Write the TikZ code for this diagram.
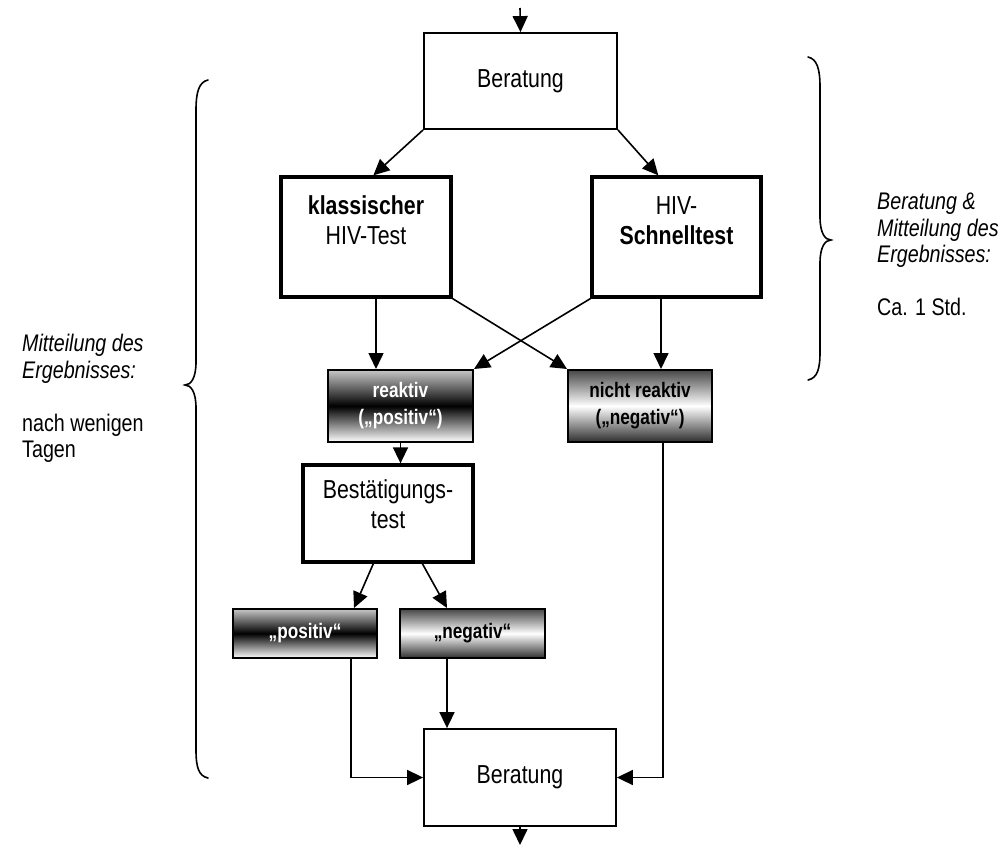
\documentclass[tikz,border=0pt]{standalone}
\usepackage{fontspec}
\setmainfont{Liberation Sans}[FakeStretch=0.82]
\usetikzlibrary{arrows.meta,calc}
\begin{document}
\begin{tikzpicture}[x=1pt,y=-1pt,
  bigtxt/.style={font=\fontsize{26}{30}\selectfont, align=center, inner sep=0pt},
  thinbox/.style={draw, line width=1.8pt, inner sep=0pt, font=\fontsize{26}{30}\selectfont},
  thickbox/.style={draw, line width=3.3pt, inner sep=0pt},
  gbox/.style={draw, line width=2pt, inner sep=0pt, align=center, font=\fontsize{21}{27}\selectfont\bfseries},
  darkmid/.style={gbox, top color=black!22, bottom color=white, middle color=black, text=white},
  lightmid/.style={gbox, top color=black!72, bottom color=black!82, middle color=white, text=black},
  arr/.style={line width=1.6pt, -{Triangle[length=16pt,width=15pt]}},
  brace/.style={line width=1.6pt, line cap=round},
  side/.style={font=\fontsize{24}{26.5}\selectfont, align=left, inner sep=0pt, anchor=north west}
]
\useasboundingbox (0,0) rectangle (1000,845);

% boxes
\node[thinbox, minimum width=193pt, minimum height=96pt] (ber1) at (520.5,81) {Beratung};
\node[thickbox, minimum width=170pt, minimum height=120pt] (klass) at (366,237) {};
\node[bigtxt] (klasst) at (366,220.5) {\textbf{klassischer}\\HIV-Test};
\node[thickbox, minimum width=169pt, minimum height=120pt] (schnell) at (676.5,237) {};
\node[bigtxt] (schnellt) at (676.5,220.5) {HIV-\\\textbf{Schnelltest}};
\node[darkmid, minimum width=145pt, minimum height=72pt] (reak) at (400.5,406) {reaktiv\\(„positiv“)};
\node[lightmid, minimum width=144pt, minimum height=72pt] (nreak) at (640,406) {nicht reaktiv\\(„negativ“)};
\node[thickbox, minimum width=170pt, minimum height=97pt] (best) at (388,513.5) {};
\node[bigtxt] (bestt) at (388,504.5) {Bestätigungs-\\test};
\node[darkmid, minimum width=144pt, minimum height=49pt] (pos) at (305,633.5) {„positiv“};
\node[lightmid, minimum width=145pt, minimum height=49pt] (neg) at (472.5,633.5) {„negativ“};
\node[thinbox, minimum width=192pt, minimum height=97pt] (ber2) at (520,777.5) {Beratung};

\coordinate (in) at (520,8);
\coordinate (out) at (520,845);

% connectors
\draw[arr] (in) -- (ber1.north);
\draw[arr] (ber1.south west) -- ([xshift=94pt]klass.north west);
\draw[arr] (ber1.south east) -- ([xshift=68pt]schnell.north west);
\draw[arr] ([xshift=49pt]reak.north west |- klass.south) -- ([xshift=49pt]reak.north west);
\draw[arr] ([xshift=94pt]nreak.north west |- schnell.south) -- ([xshift=94pt]nreak.north west);
\draw[arr] (klass.south east) -- (nreak.north west);
\draw[arr] (schnell.south west) -- (reak.north east);
\draw[arr] (reak.south) -- (reak.south |- best.north);
\draw[arr] ([xshift=72pt]best.south west) -- ([xshift=122pt]pos.north west);
\draw[arr] ([xshift=121pt]best.south west) -- ([xshift=48pt]neg.north west);
\draw[arr] ([xshift=48pt]neg.south west) -- ([xshift=48pt]neg.south west |- ber2.north);
\draw[arr] ([xshift=119pt]pos.south west) |- (ber2.west);
\draw[arr] ([xshift=96pt]nreak.south west) |- (ber2.east);
\draw[arr] (ber2.south) -- (out);

% braces
\draw[brace] (208,80) .. controls (199,82) and (196,92) .. (196,110) -- (196,362)
  .. controls (196,378) and (191,385) .. (185,385)
  .. controls (191,385) and (196,392) .. (196,408) -- (196,750)
  .. controls (196,768) and (199,776) .. (208,778);
\draw[brace] (808,57) .. controls (817,59) and (820,69) .. (820,87) -- (820,217)
  .. controls (820,233) and (825,240) .. (831,240)
  .. controls (825,240) and (820,247) .. (820,263) -- (820,352)
  .. controls (820,370) and (817,378) .. (808,380);

% side texts
\node[side] (lefttxt) at (22,334) {\itshape Mitteilung des\\\itshape Ergebnisses:\\[26.5pt]nach wenigen\\Tagen};
\node[side] (righttxt) at (877,193) {\itshape Beratung \&\\\itshape Mitteilung des\\\itshape Ergebnisses:\\[26.5pt]Ca. 1 Std.};
\end{tikzpicture}
\end{document}
